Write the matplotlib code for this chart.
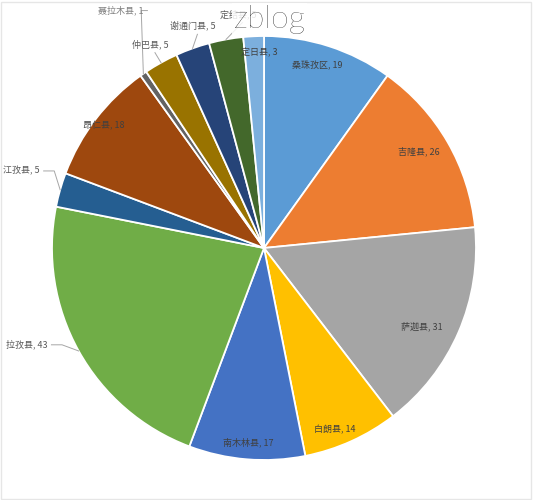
import numpy as np
import matplotlib
matplotlib.use('Agg')
import matplotlib.pyplot as plt
from matplotlib.patches import Rectangle

plt.rcParams['font.family'] = ['Noto Sans CJK SC', 'DejaVu Sans']

counties = ['桑珠孜区', '吉隆县', '萨迦县', '白朗县', '南木林县', '拉孜县', '江孜县',
            '昂仁县', '聂拉木县', '仲巴县', '谢通门县', '定结县', '定日县']
counts = [19, 26, 31, 14, 17, 43, 5, 18, 1, 5, 5, 5, 3]

colors = ['#5B9BD5', '#ED7D31', '#A5A5A5', '#FFC000', '#4472C4', '#70AD47', '#255E91',
          '#9E480E', '#636363', '#997300', '#264478', '#43682B', '#7CAFDD']

# label placement: radius (in pie radii), angle nudge (deg), leader line?
label_r = [0.90, 0.86, 0.83, 0.92, 0.92, 1.12, 1.12, 0.95, 1.22, 1.10, 1.10, 1.11, 0.92]
label_da = [-1.5, -2, 3, 3, 0, 5, 3, 0, 0, 0, 2, 4, 1.5]
outside = [False, False, False, False, False, True, True, False, True, True, True, True, False]

fig = plt.figure(figsize=(5.33, 5.0), dpi=100)
ax = fig.add_axes([52 / 533, 40 / 500, 424 / 533, 424 / 500])
wedges, _ = ax.pie(counts, colors=colors, startangle=90, counterclock=False,
                   wedgeprops=dict(edgecolor='white', linewidth=1.3))
ax.set_xlim(-1, 1)
ax.set_ylim(-1, 1)
ax.set_aspect('equal')
ax.axis('off')

for i, w in enumerate(wedges):
    mid = np.deg2rad((w.theta1 + w.theta2) / 2)
    edge = (np.cos(mid), np.sin(mid))
    ang = mid - np.deg2rad(label_da[i])
    r = label_r[i]
    txt = f'{counties[i]}, {counts[i]}'
    if not outside[i]:
        ax.text(r * np.cos(ang), r * np.sin(ang), txt, ha='center', va='center',
                fontsize=6.5, color='#404040')
        continue
    if counties[i] == '聂拉木县':
        tx, ty = -0.57, 1.12
        ax.plot([tx + 0.02, edge[0] - 0.01, edge[0]], [ty, ty, edge[1]],
                color='#A6A6A6', lw=0.7, clip_on=False)
        ax.text(tx, ty, txt, ha='right', va='center', fontsize=6.5, color='#7F7F7F')
    elif edge[0] < -0.6:
        tx, ty = r * np.cos(ang), r * np.sin(ang)
        ax.plot([tx + 0.02, tx + 0.07, edge[0]], [ty, ty, edge[1]],
                color='#A6A6A6', lw=0.7, clip_on=False)
        ax.text(tx, ty, txt, ha='right', va='center', fontsize=6.5, color='#595959')
    else:
        tx, ty = r * np.cos(ang), r * np.sin(ang)
        ax.plot([tx + 0.02, edge[0]], [ty - 0.04, edge[1]],
                color='#A6A6A6', lw=0.7, clip_on=False)
        ax.text(tx, ty, txt, ha='center', va='center', fontsize=6.5, color='#595959')

# watermark sits on top of the 定结县 label, like in the original screenshot
fig.text(234 / 533, 1 - 19 / 500, 'zblog', fontsize=23, family=['Lato', 'DejaVu Sans'],
         fontweight='light', color='black', ha='left', va='center', zorder=10,
         bbox=dict(boxstyle='square,pad=0.05', facecolor='white', edgecolor='none', alpha=0.85))

fig.patches.append(Rectangle((0.001, 0.002), 0.996, 0.995, transform=fig.transFigure,
                             fill=False, edgecolor='#E6E6E6', lw=1.0))

fig.savefig('out.png', dpi=100, facecolor='white')
